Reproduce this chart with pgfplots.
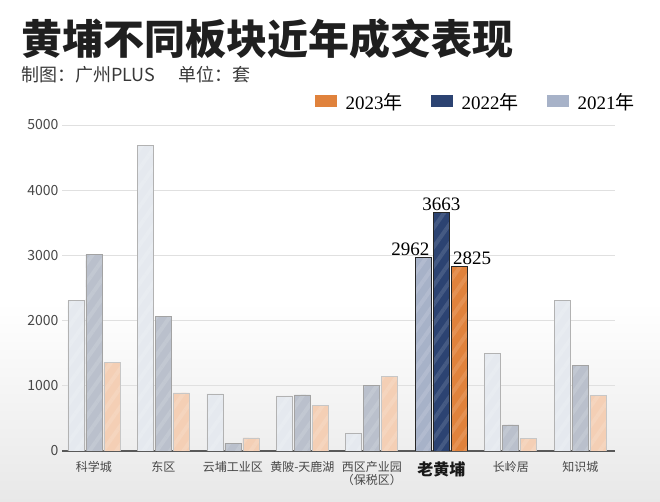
\documentclass[border=0pt]{standalone}
\usepackage{fontspec}
\usepackage{pgfplots}
\pgfplotsset{compat=1.18}
\usetikzlibrary{patterns.meta}
\setmainfont{Noto Sans CJK SC}
\newfontfamily\serifnum{Liberation Serif}

\definecolor{fa}{HTML}{E5E9EF}  % 2021 faded
\definecolor{fb}{HTML}{BAC0CC}  % 2022 faded
\definecolor{fc}{HTML}{F4CFB5}  % 2023 faded
\definecolor{ha}{HTML}{A7B2C8}  % 2021
\definecolor{hb}{HTML}{2C4372}  % 2022
\definecolor{hc}{HTML}{E0823C}  % 2023

% solid fill, soft lighter stripes, then the border on top
\tikzset{
  barfill/.style 2 args={preaction={fill=#1},
    pattern={Lines[angle=55,distance=11pt,line width=4pt]},
    pattern color=#1!88!white, draw=#2},
}

\begin{document}
\begin{tikzpicture}
\useasboundingbox (0,0) rectangle (660pt,502pt);
\shade[top color=white, bottom color=black!9] (0,0) rectangle (660pt,200pt);
\node[anchor=west, inner sep=0pt, text=black!88, font=\bfseries\fontsize{41}{44}\selectfont]
  at (21pt,463pt) {黄埔不同板块近年成交表现};
\node[anchor=west, inner sep=0pt, text=black!78, font=\fontsize{18}{20}\selectfont]
  at (21pt,427pt) {制图：广州PLUS\hspace{1.3em}单位：套};

\begin{axis}[
    at={(62pt,51pt)}, anchor=south west,
    scale only axis,
    width=553pt, height=326pt,
    xmin=-0.46, xmax=7.5,
    ymin=0, ymax=5000,
    ytick={0,1000,...,5000},
    xtick={0,...,7},
    xticklabels={科学城,东区,云埔工业区,黄陂-天鹿湖,{西区产业园\\（保税区）},
      {\bfseries\color{black!90}\fontsize{16}{18}\selectfont 老黄埔},长岭居,知识城},
    xticklabel style={font=\fontsize{12}{13}\selectfont, text=black!72, align=center, yshift=-3pt},
    yticklabel style={font=\fontsize{14}{15}\selectfont, text=black!72},
    scaled y ticks=false,
    /pgf/number format/1000 sep={},
    /pgf/number format/assume math mode=true,
    axis x line*=bottom,
    axis y line*=left,
    y axis line style={draw=none},
    x axis line style={draw=black!65, line width=1.3pt, -},
    tick style={draw=none},
    ymajorgrids,
    major grid style={draw=black!12, line width=0.8pt},
    ybar, bar width=16pt,
    every axis plot/.append style={line width=0.8pt},
    legend style={at={(1.045,1.07)}, anchor=east, draw=none, fill=none,
      legend columns=3, font=\serifnum\fontsize{19}{21}\selectfont,
      /tikz/every odd column/.append style={column sep=7pt},
      /tikz/every even column/.append style={column sep=26pt}},
    legend image code/.code={\path[#1, draw=none] (0pt,-5pt) rectangle (22pt,7pt);},
    nodes near coords style={font=\serifnum\fontsize{19}{20}\selectfont, text=black, inner sep=1.5pt},
]
% faded groups (all except 老黄埔)
\addplot[forget plot, bar shift=-18pt, barfill={fa}{black!30}]
  coordinates {(0,2310) (1,4680) (2,875) (3,845) (4,275) (6,1490) (7,2315)};
\addplot[forget plot, bar shift=0pt, barfill={fb}{black!36}]
  coordinates {(0,3015) (1,2060) (2,120) (3,860) (4,1000) (6,400) (7,1315)};
\addplot[forget plot, bar shift=18pt, barfill={fc}{black!22}]
  coordinates {(0,1355) (1,890) (2,200) (3,705) (4,1145) (6,190) (7,855)};
% highlighted group
\addplot[forget plot, bar shift=-18pt, barfill={ha}{black!85},
  nodes near coords, nodes near coords style={anchor=south east, xshift=8pt}]
  coordinates {(5,2962)};
\addplot[forget plot, bar shift=0pt, barfill={hb}{black!85},
  nodes near coords, nodes near coords style={anchor=south}]
  coordinates {(5,3663)};
\addplot[forget plot, bar shift=18pt, barfill={hc}{black!85},
  nodes near coords, nodes near coords style={anchor=south west, xshift=-8pt}]
  coordinates {(5,2825)};
% legend
\addlegendimage{fill=hc}
\addlegendentry{2023{\rmfamily 年}}
\addlegendimage{fill=hb}
\addlegendentry{2022{\rmfamily 年}}
\addlegendimage{fill=ha}
\addlegendentry{2021{\rmfamily 年}}
\end{axis}
\end{tikzpicture}
\end{document}
